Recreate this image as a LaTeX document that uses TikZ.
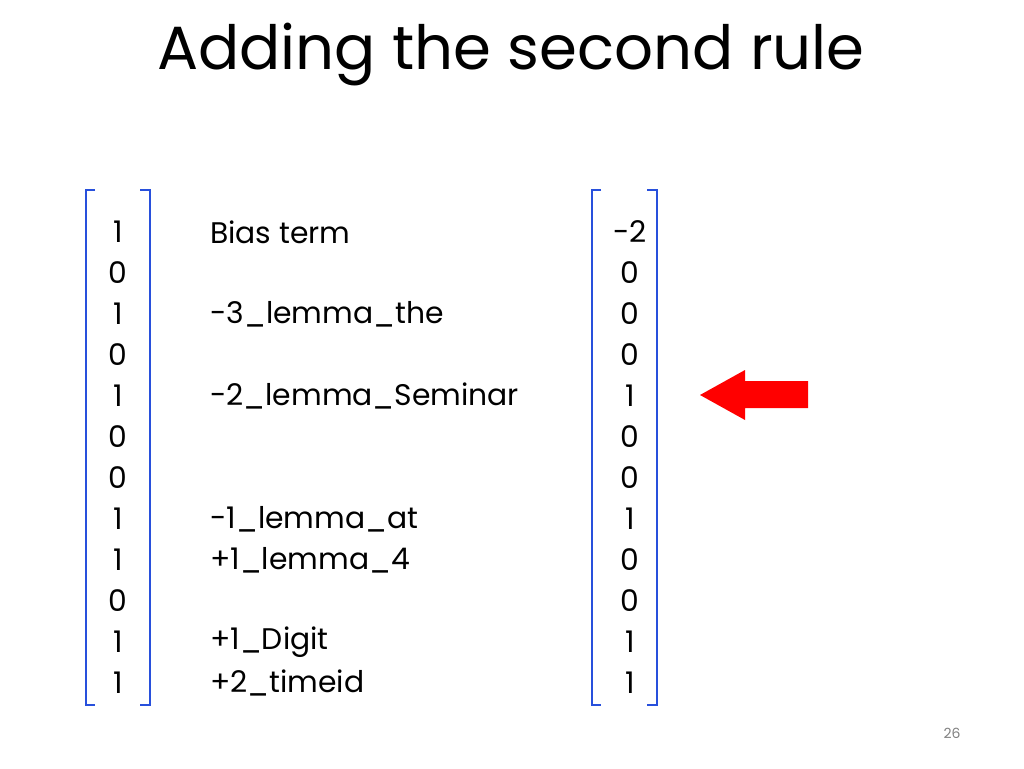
\documentclass[tikz,border=0pt]{standalone}
\usepackage{fontspec}
\setmainfont{Poppins}
\begin{document}
\begin{tikzpicture}[x=1pt,y=-1pt,
  txt/.style={font=\fontsize{29.8}{30}\selectfont, inner sep=0pt},
  brk/.style={draw={rgb,255:red,40;green,80;blue,220}, line width=2.5pt}]
\useasboundingbox (0,0) rectangle (1024,768);
\node[font=\fontsize{61}{64}\selectfont, inner sep=0pt] (title) at (511,55) {Adding the second rule};
\def\la{{"1","0","1","0","1","0","0","1","1","0","1","1"}}
\def\ra{{"-2","0","0","0","1","0","0","1","0","0","1","1"}}
\foreach \i in {0,...,11}{
  \pgfmathsetmacro\yy{232+41*\i}
  \pgfmathparse{\la[\i]}\let\lv\pgfmathresult
  \node[txt] (l\i) at (118,\yy) {\lv};
  \pgfmathparse{\ra[\i]}\let\rv\pgfmathresult
  \node[txt] (r\i) at (630,\yy) {\rv};
}
\foreach \i/\t in {0/Bias term,2/-3\_lemma\_the,4/-2\_lemma\_Seminar,7/-1\_lemma\_at,8/+1\_lemma\_4,10/+1\_Digit,11/+2\_timeid}{
  \node[txt, anchor=west] (f\i) at (210,232+41*\i) {\t};
}
\draw[brk] (95,190) -- (86,190) -- (86,705) -- (95,705);
\draw[brk] (140,190) -- (150,190) -- (150,705) -- (140,705);
\draw[brk] (601,190) -- (592,190) -- (592,705) -- (601,705);
\draw[brk] (647,190) -- (657,190) -- (657,705) -- (647,705);
\fill[red] (700,395) -- (745,370) -- (745,381) -- (808,381) -- (808,408) -- (745,408) -- (745,420) -- cycle;
\node[font=\fontsize{14}{15}\selectfont, text=gray, inner sep=0pt] (pg) at (952,733) {26};
\end{tikzpicture}
\end{document}
